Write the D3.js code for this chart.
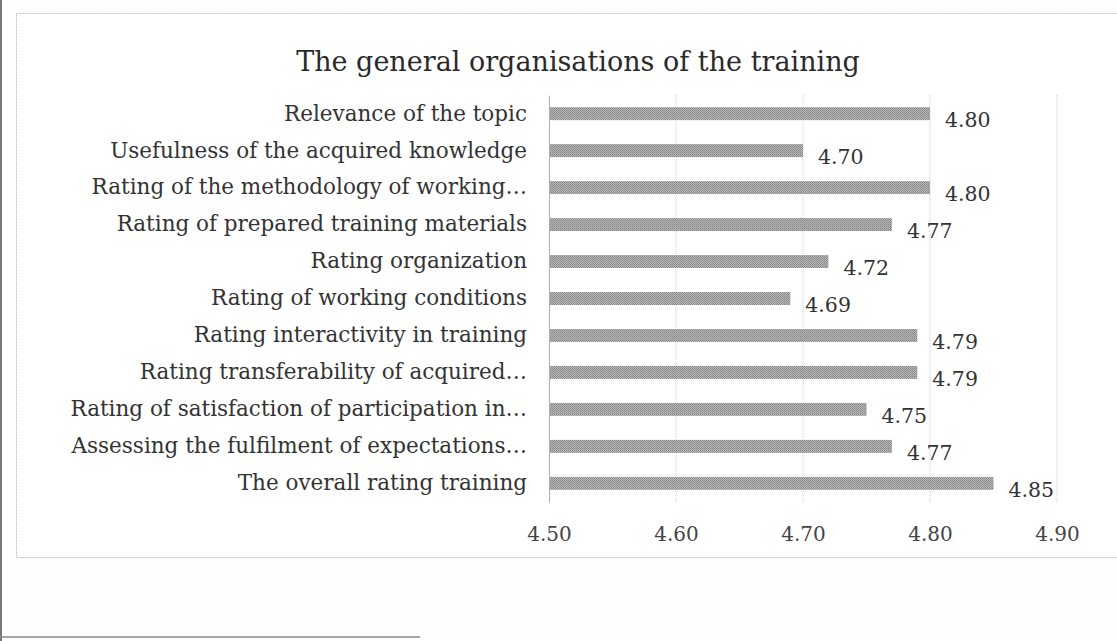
<!DOCTYPE html>
<html>
<head>
<meta charset="utf-8">
<script src="https://cdn.jsdelivr.net/npm/d3@7"></script>
<style>
  body { margin: 0; background: #fdfdfd; }
  svg { display: block; }
  text { font-family: "DejaVu Serif", "Liberation Serif", serif; fill: #333; }
</style>
</head>
<body>
<svg id="chart" width="1117" height="641"></svg>
<script>
// chart data, top to bottom as in the picture
var categories = [
    'Relevance of the topic',
    'Usefulness of the acquired knowledge',
    'Rating of the methodology of working\u2026',
    'Rating of prepared training materials',
    'Rating organization',
    'Rating of working conditions',
    'Rating interactivity in training',
    'Rating transferability of acquired\u2026',
    'Rating of satisfaction of participation in\u2026',
    'Assessing the fulfilment of expectations\u2026',
    'The overall rating training'
];
var values = [4.80, 4.70, 4.80, 4.77, 4.72, 4.69, 4.79, 4.79, 4.75, 4.77, 4.85];
var xTicks = [4.50, 4.60, 4.70, 4.80, 4.90];
var title = 'The general organisations of the training';

var svg = d3.select('#chart');

// scanned page edges
svg.append('line').attr('x1', 1).attr('x2', 1).attr('y1', 0).attr('y2', 641)
    .style('stroke', '#777').style('stroke-width', 2);
svg.append('line').attr('x1', 0).attr('x2', 420).attr('y1', 637).attr('y2', 637)
    .style('stroke', '#888').style('stroke-width', 1.5);

// chart frame
svg.append('rect')
    .attr('x', 16.5).attr('y', 13.5)
    .attr('width', 1130).attr('height', 544)
    .style('fill', '#fff')
    .style('stroke', '#c4c4c4')
    .style('stroke-dasharray', '2,1');

// dithered bar fill like the print
var pat = svg.append('defs').append('pattern')
    .attr('id', 'dither')
    .attr('width', 2).attr('height', 2)
    .attr('patternUnits', 'userSpaceOnUse');
pat.append('rect').attr('width', 2).attr('height', 2).style('fill', '#b8b8b8');
pat.append('rect').attr('width', 1).attr('height', 1).style('fill', '#828282');
pat.append('rect').attr('x', 1).attr('y', 1).attr('width', 1).attr('height', 1).style('fill', '#939393');

var x = d3.scaleLinear().domain([4.5, 4.9]).range([549, 1057]);
var y = d3.scaleBand().domain(categories).range([95, 502]).paddingInner(0.65).paddingOuter(0.33);

svg.append('text')
    .attr('x', 578).attr('y', 71)
    .attr('text-anchor', 'middle')
    .style('font-size', '27px')
    .style('fill', '#2a2a2a')
    .text(title);

// gridlines
svg.append('g').selectAll('line')
    .data(xTicks.slice(1))
    .enter().append('line')
    .attr('x1', function(d) { return x(d); })
    .attr('x2', function(d) { return x(d); })
    .attr('y1', 95).attr('y2', 502)
    .style('stroke', '#cfcfcf')
    .style('stroke-dasharray', '1,1');

// x axis labels
var xAxis = d3.axisBottom(x).tickValues(xTicks).tickSize(0).tickPadding(0)
    .tickFormat(d3.format('.2f'));
var gx = svg.append('g').attr('transform', 'translate(0,527)').call(xAxis);
gx.select('.domain').remove();
gx.selectAll('text')
    .attr('dy', '0.71em')
    .style('font-size', '20px')
    .style('font-family', '"DejaVu Serif", serif')
    .style('fill', '#444');

// bars
svg.append('g').selectAll('rect')
    .data(values)
    .enter().append('rect')
    .attr('x', x(4.5))
    .attr('y', function(d, i) { return y(categories[i]); })
    .attr('width', function(d) { return x(d) - x(4.5); })
    .attr('height', y.bandwidth())
    .style('fill', 'url(#dither)');

// category axis
var yAxis = d3.axisLeft(y).tickSize(0).tickPadding(22);
var gy = svg.append('g').attr('transform', 'translate(549,0)').call(yAxis);
gy.select('.domain').style('stroke', '#b0b0b0');
gy.selectAll('text')
    .style('font-size', '21.5px')
    .style('font-family', '"DejaVu Serif", serif')
    .style('fill', '#333');

// value labels
svg.append('g').selectAll('text')
    .data(values)
    .enter().append('text')
    .attr('x', function(d) { return x(d) + 15; })
    .attr('y', function(d, i) { return y(categories[i]) + y.bandwidth() / 2 + 6; })
    .attr('dy', '0.35em')
    .style('font-size', '20.5px')
    .style('fill', '#333')
    .text(function(d) { return d.toFixed(2); });
</script>
</body>
</html>
